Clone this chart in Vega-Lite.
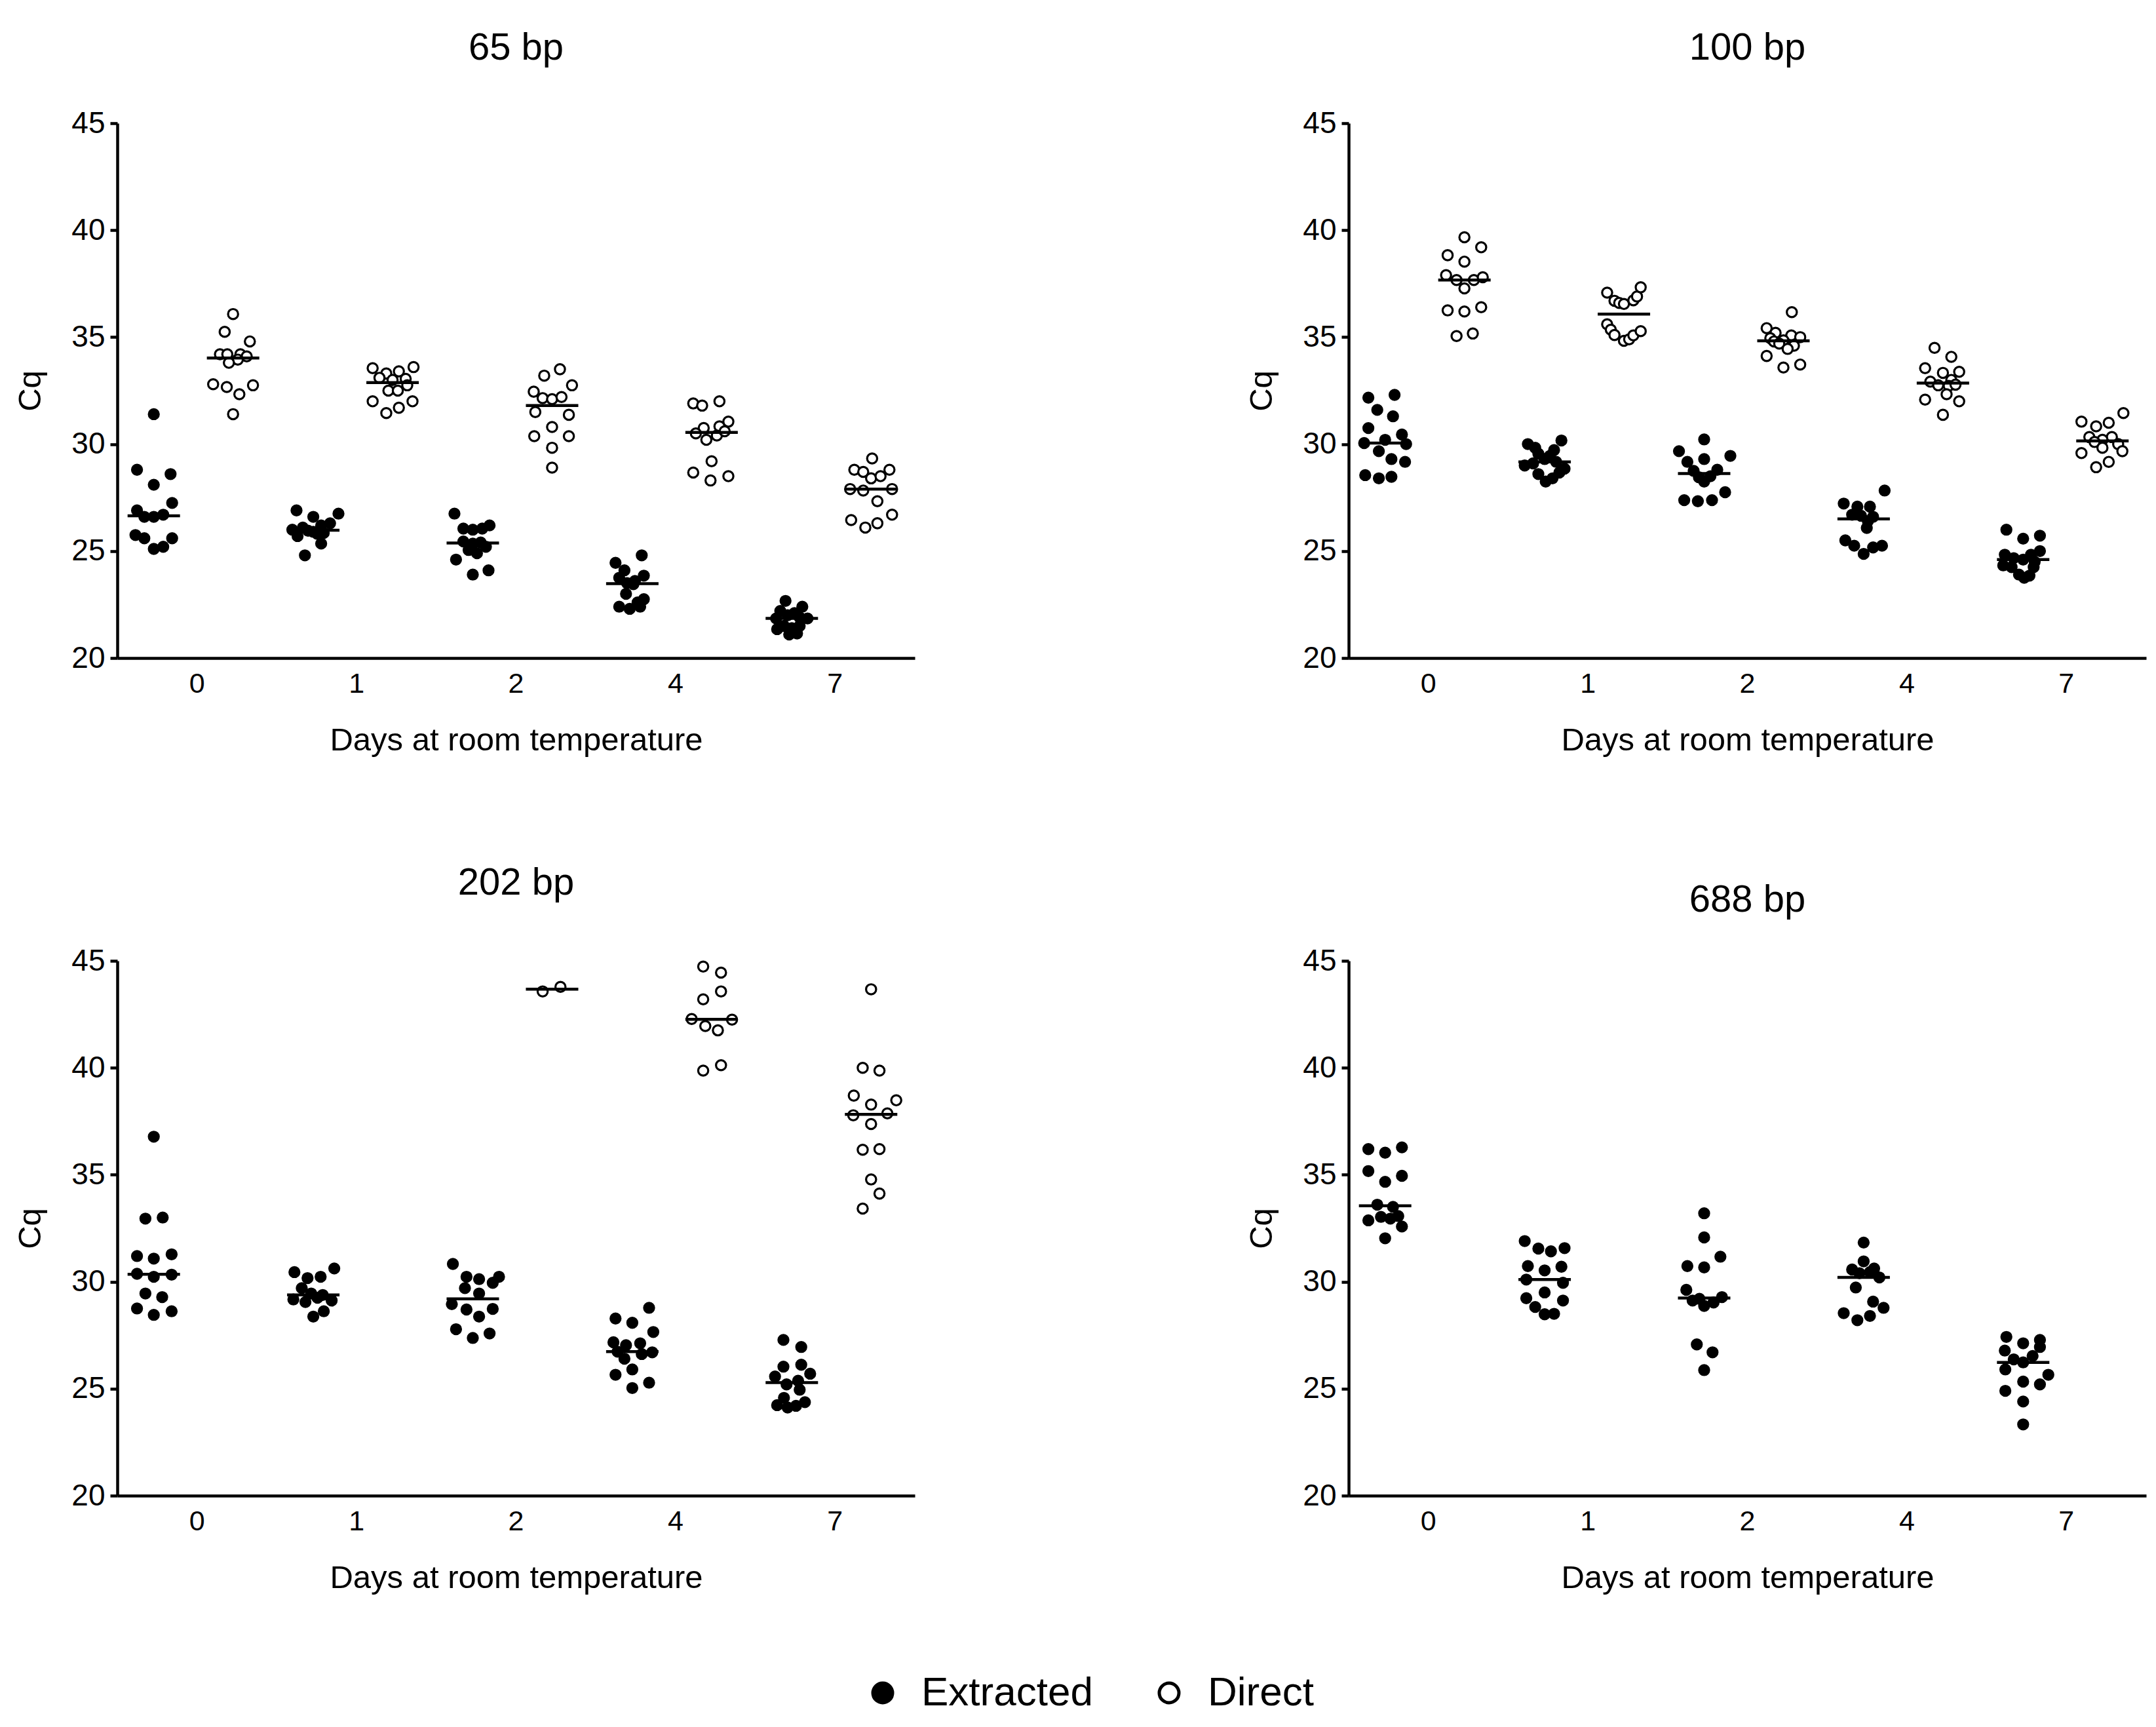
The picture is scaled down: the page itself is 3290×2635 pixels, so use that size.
{
  "$schema": "https://vega.github.io/schema/vega-lite/v6.json",
  "background": "white",
  "padding": {"left": 22, "top": 45, "right": 10, "bottom": 10},
  "data": {
    "values": [
      {"bp":"65 bp","day":"0","method":"Extracted","cq":31.4,"slot":0},
      {"bp":"65 bp","day":"0","method":"Extracted","cq":28.8,"slot":-1.6},
      {"bp":"65 bp","day":"0","method":"Extracted","cq":28.6,"slot":1.6},
      {"bp":"65 bp","day":"0","method":"Extracted","cq":28.1,"slot":0},
      {"bp":"65 bp","day":"0","method":"Extracted","cq":27.25,"slot":1.75},
      {"bp":"65 bp","day":"0","method":"Extracted","cq":26.9,"slot":-1.6},
      {"bp":"65 bp","day":"0","method":"Extracted","cq":26.6,"slot":-0.9},
      {"bp":"65 bp","day":"0","method":"Extracted","cq":26.6,"slot":0},
      {"bp":"65 bp","day":"0","method":"Extracted","cq":26.7,"slot":0.9},
      {"bp":"65 bp","day":"0","method":"Extracted","cq":25.75,"slot":-1.75},
      {"bp":"65 bp","day":"0","method":"Extracted","cq":25.6,"slot":-0.9},
      {"bp":"65 bp","day":"0","method":"Extracted","cq":25.6,"slot":1.75},
      {"bp":"65 bp","day":"0","method":"Extracted","cq":25.1,"slot":0},
      {"bp":"65 bp","day":"0","method":"Extracted","cq":25.2,"slot":0.9},
      {"bp":"65 bp","day":"0","method":"Direct","cq":36.08,"slot":0},
      {"bp":"65 bp","day":"0","method":"Direct","cq":35.25,"slot":-0.8},
      {"bp":"65 bp","day":"0","method":"Direct","cq":34.8,"slot":1.6},
      {"bp":"65 bp","day":"0","method":"Direct","cq":34.2,"slot":-1.25},
      {"bp":"65 bp","day":"0","method":"Direct","cq":34.2,"slot":-0.55},
      {"bp":"65 bp","day":"0","method":"Direct","cq":34.2,"slot":0.7},
      {"bp":"65 bp","day":"0","method":"Direct","cq":34.1,"slot":1.3},
      {"bp":"65 bp","day":"0","method":"Direct","cq":33.95,"slot":0.45},
      {"bp":"65 bp","day":"0","method":"Direct","cq":33.8,"slot":-0.4},
      {"bp":"65 bp","day":"0","method":"Direct","cq":32.8,"slot":-1.9},
      {"bp":"65 bp","day":"0","method":"Direct","cq":32.67,"slot":-0.6},
      {"bp":"65 bp","day":"0","method":"Direct","cq":32.33,"slot":0.6},
      {"bp":"65 bp","day":"0","method":"Direct","cq":32.75,"slot":1.9},
      {"bp":"65 bp","day":"0","method":"Direct","cq":31.4,"slot":0},
      {"bp":"65 bp","day":"1","method":"Extracted","cq":26.9,"slot":-1.6},
      {"bp":"65 bp","day":"1","method":"Extracted","cq":26.6,"slot":0},
      {"bp":"65 bp","day":"1","method":"Extracted","cq":26.75,"slot":2.4},
      {"bp":"65 bp","day":"1","method":"Extracted","cq":26.3,"slot":1.6},
      {"bp":"65 bp","day":"1","method":"Extracted","cq":26.2,"slot":0.75},
      {"bp":"65 bp","day":"1","method":"Extracted","cq":26.1,"slot":-1.0},
      {"bp":"65 bp","day":"1","method":"Extracted","cq":26.0,"slot":-2.0},
      {"bp":"65 bp","day":"1","method":"Extracted","cq":25.9,"slot":0},
      {"bp":"65 bp","day":"1","method":"Extracted","cq":25.95,"slot":-0.5},
      {"bp":"65 bp","day":"1","method":"Extracted","cq":25.85,"slot":1.0},
      {"bp":"65 bp","day":"1","method":"Extracted","cq":25.8,"slot":0.4},
      {"bp":"65 bp","day":"1","method":"Extracted","cq":25.7,"slot":-1.5},
      {"bp":"65 bp","day":"1","method":"Extracted","cq":25.35,"slot":0.75},
      {"bp":"65 bp","day":"1","method":"Extracted","cq":24.8,"slot":-0.8},
      {"bp":"65 bp","day":"1","method":"Direct","cq":33.55,"slot":-1.9},
      {"bp":"65 bp","day":"1","method":"Direct","cq":33.6,"slot":2.0},
      {"bp":"65 bp","day":"1","method":"Direct","cq":33.3,"slot":-0.6},
      {"bp":"65 bp","day":"1","method":"Direct","cq":33.4,"slot":0.6},
      {"bp":"65 bp","day":"1","method":"Direct","cq":33.1,"slot":-1.25},
      {"bp":"65 bp","day":"1","method":"Direct","cq":33.0,"slot":0},
      {"bp":"65 bp","day":"1","method":"Direct","cq":33.05,"slot":1.25},
      {"bp":"65 bp","day":"1","method":"Direct","cq":32.5,"slot":-0.4},
      {"bp":"65 bp","day":"1","method":"Direct","cq":32.5,"slot":0.5},
      {"bp":"65 bp","day":"1","method":"Direct","cq":32.75,"slot":1.4},
      {"bp":"65 bp","day":"1","method":"Direct","cq":32.0,"slot":-1.9},
      {"bp":"65 bp","day":"1","method":"Direct","cq":31.45,"slot":-0.6},
      {"bp":"65 bp","day":"1","method":"Direct","cq":31.7,"slot":0.6},
      {"bp":"65 bp","day":"1","method":"Direct","cq":32.0,"slot":1.9},
      {"bp":"65 bp","day":"2","method":"Extracted","cq":26.75,"slot":-1.75},
      {"bp":"65 bp","day":"2","method":"Extracted","cq":26.2,"slot":1.6},
      {"bp":"65 bp","day":"2","method":"Extracted","cq":26.05,"slot":-0.9},
      {"bp":"65 bp","day":"2","method":"Extracted","cq":26.0,"slot":0},
      {"bp":"65 bp","day":"2","method":"Extracted","cq":26.05,"slot":0.9},
      {"bp":"65 bp","day":"2","method":"Extracted","cq":25.45,"slot":-0.9},
      {"bp":"65 bp","day":"2","method":"Extracted","cq":25.4,"slot":0.75},
      {"bp":"65 bp","day":"2","method":"Extracted","cq":25.35,"slot":0},
      {"bp":"65 bp","day":"2","method":"Extracted","cq":25.05,"slot":-0.4},
      {"bp":"65 bp","day":"2","method":"Extracted","cq":24.9,"slot":0.4},
      {"bp":"65 bp","day":"2","method":"Extracted","cq":25.2,"slot":1.25},
      {"bp":"65 bp","day":"2","method":"Extracted","cq":24.6,"slot":-1.6},
      {"bp":"65 bp","day":"2","method":"Extracted","cq":24.1,"slot":1.5},
      {"bp":"65 bp","day":"2","method":"Extracted","cq":23.9,"slot":0},
      {"bp":"65 bp","day":"2","method":"Direct","cq":33.5,"slot":0.75},
      {"bp":"65 bp","day":"2","method":"Direct","cq":33.2,"slot":-0.75},
      {"bp":"65 bp","day":"2","method":"Direct","cq":32.75,"slot":1.9},
      {"bp":"65 bp","day":"2","method":"Direct","cq":32.45,"slot":-1.75},
      {"bp":"65 bp","day":"2","method":"Direct","cq":32.15,"slot":-0.9},
      {"bp":"65 bp","day":"2","method":"Direct","cq":32.1,"slot":0},
      {"bp":"65 bp","day":"2","method":"Direct","cq":32.2,"slot":0.9},
      {"bp":"65 bp","day":"2","method":"Direct","cq":31.5,"slot":-1.6},
      {"bp":"65 bp","day":"2","method":"Direct","cq":31.37,"slot":1.6},
      {"bp":"65 bp","day":"2","method":"Direct","cq":30.8,"slot":0},
      {"bp":"65 bp","day":"2","method":"Direct","cq":30.37,"slot":-1.7},
      {"bp":"65 bp","day":"2","method":"Direct","cq":30.37,"slot":1.6},
      {"bp":"65 bp","day":"2","method":"Direct","cq":29.83,"slot":0},
      {"bp":"65 bp","day":"2","method":"Direct","cq":28.9,"slot":0},
      {"bp":"65 bp","day":"4","method":"Extracted","cq":24.8,"slot":0.9},
      {"bp":"65 bp","day":"4","method":"Extracted","cq":24.45,"slot":-1.6},
      {"bp":"65 bp","day":"4","method":"Extracted","cq":24.1,"slot":-0.75},
      {"bp":"65 bp","day":"4","method":"Extracted","cq":23.85,"slot":1.1},
      {"bp":"65 bp","day":"4","method":"Extracted","cq":23.75,"slot":-1.25},
      {"bp":"65 bp","day":"4","method":"Extracted","cq":23.6,"slot":0.25},
      {"bp":"65 bp","day":"4","method":"Extracted","cq":23.5,"slot":-0.5},
      {"bp":"65 bp","day":"4","method":"Extracted","cq":23.45,"slot":0.1},
      {"bp":"65 bp","day":"4","method":"Extracted","cq":23.0,"slot":-0.6},
      {"bp":"65 bp","day":"4","method":"Extracted","cq":22.75,"slot":1.1},
      {"bp":"65 bp","day":"4","method":"Extracted","cq":22.6,"slot":0.5},
      {"bp":"65 bp","day":"4","method":"Extracted","cq":22.4,"slot":-1.25},
      {"bp":"65 bp","day":"4","method":"Extracted","cq":22.3,"slot":-0.25},
      {"bp":"65 bp","day":"4","method":"Extracted","cq":22.4,"slot":0.75},
      {"bp":"65 bp","day":"4","method":"Direct","cq":32.0,"slot":0.75},
      {"bp":"65 bp","day":"4","method":"Direct","cq":31.9,"slot":-1.75},
      {"bp":"65 bp","day":"4","method":"Direct","cq":31.8,"slot":-0.9},
      {"bp":"65 bp","day":"4","method":"Direct","cq":31.05,"slot":1.6},
      {"bp":"65 bp","day":"4","method":"Direct","cq":30.75,"slot":-0.75},
      {"bp":"65 bp","day":"4","method":"Direct","cq":30.83,"slot":0.75},
      {"bp":"65 bp","day":"4","method":"Direct","cq":30.5,"slot":-1.5},
      {"bp":"65 bp","day":"4","method":"Direct","cq":30.2,"slot":-0.5},
      {"bp":"65 bp","day":"4","method":"Direct","cq":30.4,"slot":0.5},
      {"bp":"65 bp","day":"4","method":"Direct","cq":30.6,"slot":1.25},
      {"bp":"65 bp","day":"4","method":"Direct","cq":29.2,"slot":0},
      {"bp":"65 bp","day":"4","method":"Direct","cq":28.67,"slot":-1.75},
      {"bp":"65 bp","day":"4","method":"Direct","cq":28.3,"slot":-0.1},
      {"bp":"65 bp","day":"4","method":"Direct","cq":28.5,"slot":1.6},
      {"bp":"65 bp","day":"7","method":"Extracted","cq":22.67,"slot":-0.6},
      {"bp":"65 bp","day":"7","method":"Extracted","cq":22.4,"slot":1.0},
      {"bp":"65 bp","day":"7","method":"Extracted","cq":22.2,"slot":-1.1},
      {"bp":"65 bp","day":"7","method":"Extracted","cq":22.1,"slot":0.25},
      {"bp":"65 bp","day":"7","method":"Extracted","cq":22.0,"slot":-0.4},
      {"bp":"65 bp","day":"7","method":"Extracted","cq":21.9,"slot":0.75},
      {"bp":"65 bp","day":"7","method":"Extracted","cq":21.85,"slot":1.5},
      {"bp":"65 bp","day":"7","method":"Extracted","cq":21.85,"slot":-1.5},
      {"bp":"65 bp","day":"7","method":"Extracted","cq":21.5,"slot":-0.75},
      {"bp":"65 bp","day":"7","method":"Extracted","cq":21.4,"slot":0},
      {"bp":"65 bp","day":"7","method":"Extracted","cq":21.5,"slot":0.75},
      {"bp":"65 bp","day":"7","method":"Extracted","cq":21.35,"slot":-1.4},
      {"bp":"65 bp","day":"7","method":"Extracted","cq":21.1,"slot":-0.25},
      {"bp":"65 bp","day":"7","method":"Extracted","cq":21.15,"slot":0.5},
      {"bp":"65 bp","day":"7","method":"Direct","cq":29.33,"slot":0.1},
      {"bp":"65 bp","day":"7","method":"Direct","cq":28.8,"slot":-1.6},
      {"bp":"65 bp","day":"7","method":"Direct","cq":28.7,"slot":-0.75},
      {"bp":"65 bp","day":"7","method":"Direct","cq":28.8,"slot":1.75},
      {"bp":"65 bp","day":"7","method":"Direct","cq":28.4,"slot":0},
      {"bp":"65 bp","day":"7","method":"Direct","cq":28.5,"slot":0.9},
      {"bp":"65 bp","day":"7","method":"Direct","cq":27.9,"slot":-2.0},
      {"bp":"65 bp","day":"7","method":"Direct","cq":27.83,"slot":-0.75},
      {"bp":"65 bp","day":"7","method":"Direct","cq":27.9,"slot":2.0},
      {"bp":"65 bp","day":"7","method":"Direct","cq":27.33,"slot":0.6},
      {"bp":"65 bp","day":"7","method":"Direct","cq":26.45,"slot":-1.9},
      {"bp":"65 bp","day":"7","method":"Direct","cq":26.1,"slot":-0.55},
      {"bp":"65 bp","day":"7","method":"Direct","cq":26.3,"slot":0.6},
      {"bp":"65 bp","day":"7","method":"Direct","cq":26.7,"slot":2.0},

      {"bp":"100 bp","day":"0","method":"Extracted","cq":32.17,"slot":-1.6},
      {"bp":"100 bp","day":"0","method":"Extracted","cq":32.3,"slot":0.9},
      {"bp":"100 bp","day":"0","method":"Extracted","cq":31.6,"slot":-0.75},
      {"bp":"100 bp","day":"0","method":"Extracted","cq":31.3,"slot":0.75},
      {"bp":"100 bp","day":"0","method":"Extracted","cq":30.75,"slot":-1.6},
      {"bp":"100 bp","day":"0","method":"Extracted","cq":30.45,"slot":1.6},
      {"bp":"100 bp","day":"0","method":"Extracted","cq":30.05,"slot":-2.0},
      {"bp":"100 bp","day":"0","method":"Extracted","cq":30.2,"slot":0},
      {"bp":"100 bp","day":"0","method":"Extracted","cq":30.0,"slot":2.0},
      {"bp":"100 bp","day":"0","method":"Extracted","cq":29.67,"slot":-0.6},
      {"bp":"100 bp","day":"0","method":"Extracted","cq":29.3,"slot":0.6},
      {"bp":"100 bp","day":"0","method":"Extracted","cq":29.17,"slot":1.9},
      {"bp":"100 bp","day":"0","method":"Extracted","cq":28.55,"slot":-1.9},
      {"bp":"100 bp","day":"0","method":"Extracted","cq":28.4,"slot":-0.6},
      {"bp":"100 bp","day":"0","method":"Extracted","cq":28.47,"slot":0.6},
      {"bp":"100 bp","day":"0","method":"Direct","cq":39.67,"slot":0},
      {"bp":"100 bp","day":"0","method":"Direct","cq":39.2,"slot":1.6},
      {"bp":"100 bp","day":"0","method":"Direct","cq":38.83,"slot":-1.6},
      {"bp":"100 bp","day":"0","method":"Direct","cq":38.53,"slot":0},
      {"bp":"100 bp","day":"0","method":"Direct","cq":37.9,"slot":-1.75},
      {"bp":"100 bp","day":"0","method":"Direct","cq":37.67,"slot":-0.75},
      {"bp":"100 bp","day":"0","method":"Direct","cq":37.67,"slot":0.9},
      {"bp":"100 bp","day":"0","method":"Direct","cq":37.8,"slot":1.75},
      {"bp":"100 bp","day":"0","method":"Direct","cq":37.28,"slot":0},
      {"bp":"100 bp","day":"0","method":"Direct","cq":36.25,"slot":-1.6},
      {"bp":"100 bp","day":"0","method":"Direct","cq":36.2,"slot":0},
      {"bp":"100 bp","day":"0","method":"Direct","cq":36.4,"slot":1.6},
      {"bp":"100 bp","day":"0","method":"Direct","cq":35.05,"slot":-0.75},
      {"bp":"100 bp","day":"0","method":"Direct","cq":35.17,"slot":0.8},
      {"bp":"100 bp","day":"1","method":"Extracted","cq":30.17,"slot":1.6},
      {"bp":"100 bp","day":"1","method":"Extracted","cq":30.0,"slot":-1.6},
      {"bp":"100 bp","day":"1","method":"Extracted","cq":29.83,"slot":-0.9},
      {"bp":"100 bp","day":"1","method":"Extracted","cq":29.72,"slot":0.9},
      {"bp":"100 bp","day":"1","method":"Extracted","cq":29.55,"slot":-0.6},
      {"bp":"100 bp","day":"1","method":"Extracted","cq":29.45,"slot":0.5},
      {"bp":"100 bp","day":"1","method":"Extracted","cq":29.3,"slot":0},
      {"bp":"100 bp","day":"1","method":"Extracted","cq":29.17,"slot":1.1},
      {"bp":"100 bp","day":"1","method":"Extracted","cq":29.1,"slot":-1.1},
      {"bp":"100 bp","day":"1","method":"Extracted","cq":29.0,"slot":-1.9},
      {"bp":"100 bp","day":"1","method":"Extracted","cq":28.85,"slot":1.9},
      {"bp":"100 bp","day":"1","method":"Extracted","cq":28.67,"slot":1.4},
      {"bp":"100 bp","day":"1","method":"Extracted","cq":28.6,"slot":-0.6},
      {"bp":"100 bp","day":"1","method":"Extracted","cq":28.4,"slot":0.75},
      {"bp":"100 bp","day":"1","method":"Extracted","cq":28.25,"slot":0.1},
      {"bp":"100 bp","day":"1","method":"Direct","cq":37.08,"slot":-1.6},
      {"bp":"100 bp","day":"1","method":"Direct","cq":36.7,"slot":-0.9},
      {"bp":"100 bp","day":"1","method":"Direct","cq":36.6,"slot":-0.45},
      {"bp":"100 bp","day":"1","method":"Direct","cq":36.55,"slot":0},
      {"bp":"100 bp","day":"1","method":"Direct","cq":36.72,"slot":0.9},
      {"bp":"100 bp","day":"1","method":"Direct","cq":36.9,"slot":1.25},
      {"bp":"100 bp","day":"1","method":"Direct","cq":37.33,"slot":1.6},
      {"bp":"100 bp","day":"1","method":"Direct","cq":35.6,"slot":-1.6},
      {"bp":"100 bp","day":"1","method":"Direct","cq":35.35,"slot":-1.25},
      {"bp":"100 bp","day":"1","method":"Direct","cq":35.1,"slot":-0.9},
      {"bp":"100 bp","day":"1","method":"Direct","cq":34.83,"slot":0},
      {"bp":"100 bp","day":"1","method":"Direct","cq":34.9,"slot":0.5},
      {"bp":"100 bp","day":"1","method":"Direct","cq":35.08,"slot":0.9},
      {"bp":"100 bp","day":"1","method":"Direct","cq":35.28,"slot":1.6},
      {"bp":"100 bp","day":"2","method":"Extracted","cq":30.22,"slot":0},
      {"bp":"100 bp","day":"2","method":"Extracted","cq":29.67,"slot":-2.4},
      {"bp":"100 bp","day":"2","method":"Extracted","cq":29.45,"slot":2.5},
      {"bp":"100 bp","day":"2","method":"Extracted","cq":29.3,"slot":0},
      {"bp":"100 bp","day":"2","method":"Extracted","cq":29.17,"slot":-1.6},
      {"bp":"100 bp","day":"2","method":"Extracted","cq":28.75,"slot":-1.0},
      {"bp":"100 bp","day":"2","method":"Extracted","cq":28.45,"slot":-0.5},
      {"bp":"100 bp","day":"2","method":"Extracted","cq":28.25,"slot":0},
      {"bp":"100 bp","day":"2","method":"Extracted","cq":28.5,"slot":0.6},
      {"bp":"100 bp","day":"2","method":"Extracted","cq":28.8,"slot":1.25},
      {"bp":"100 bp","day":"2","method":"Extracted","cq":27.38,"slot":-1.9},
      {"bp":"100 bp","day":"2","method":"Extracted","cq":27.33,"slot":-0.6},
      {"bp":"100 bp","day":"2","method":"Extracted","cq":27.38,"slot":0.75},
      {"bp":"100 bp","day":"2","method":"Extracted","cq":27.75,"slot":2.0},
      {"bp":"100 bp","day":"2","method":"Direct","cq":36.17,"slot":0.8},
      {"bp":"100 bp","day":"2","method":"Direct","cq":35.42,"slot":-1.6},
      {"bp":"100 bp","day":"2","method":"Direct","cq":35.2,"slot":-0.75},
      {"bp":"100 bp","day":"2","method":"Direct","cq":35.08,"slot":0.75},
      {"bp":"100 bp","day":"2","method":"Direct","cq":35.0,"slot":1.6},
      {"bp":"100 bp","day":"2","method":"Direct","cq":34.95,"slot":-1.25},
      {"bp":"100 bp","day":"2","method":"Direct","cq":34.85,"slot":0},
      {"bp":"100 bp","day":"2","method":"Direct","cq":34.8,"slot":-0.9},
      {"bp":"100 bp","day":"2","method":"Direct","cq":34.7,"slot":-0.4},
      {"bp":"100 bp","day":"2","method":"Direct","cq":34.6,"slot":1.0},
      {"bp":"100 bp","day":"2","method":"Direct","cq":34.45,"slot":0.4},
      {"bp":"100 bp","day":"2","method":"Direct","cq":34.12,"slot":-1.6},
      {"bp":"100 bp","day":"2","method":"Direct","cq":33.72,"slot":1.6},
      {"bp":"100 bp","day":"2","method":"Direct","cq":33.58,"slot":0},
      {"bp":"100 bp","day":"4","method":"Extracted","cq":27.83,"slot":2.0},
      {"bp":"100 bp","day":"4","method":"Extracted","cq":27.22,"slot":-1.9},
      {"bp":"100 bp","day":"4","method":"Extracted","cq":27.08,"slot":-0.6},
      {"bp":"100 bp","day":"4","method":"Extracted","cq":27.08,"slot":0.6},
      {"bp":"100 bp","day":"4","method":"Extracted","cq":26.7,"slot":-1.1},
      {"bp":"100 bp","day":"4","method":"Extracted","cq":26.65,"slot":-0.25},
      {"bp":"100 bp","day":"4","method":"Extracted","cq":26.6,"slot":0.9},
      {"bp":"100 bp","day":"4","method":"Extracted","cq":26.4,"slot":0.4},
      {"bp":"100 bp","day":"4","method":"Extracted","cq":26.08,"slot":0.3},
      {"bp":"100 bp","day":"4","method":"Extracted","cq":25.5,"slot":-1.75},
      {"bp":"100 bp","day":"4","method":"Extracted","cq":25.25,"slot":-0.9},
      {"bp":"100 bp","day":"4","method":"Extracted","cq":24.87,"slot":0},
      {"bp":"100 bp","day":"4","method":"Extracted","cq":25.17,"slot":0.9},
      {"bp":"100 bp","day":"4","method":"Extracted","cq":25.25,"slot":1.75},
      {"bp":"100 bp","day":"4","method":"Direct","cq":34.5,"slot":-0.8},
      {"bp":"100 bp","day":"4","method":"Direct","cq":34.08,"slot":0.8},
      {"bp":"100 bp","day":"4","method":"Direct","cq":33.55,"slot":-1.7},
      {"bp":"100 bp","day":"4","method":"Direct","cq":33.33,"slot":0},
      {"bp":"100 bp","day":"4","method":"Direct","cq":33.38,"slot":1.55},
      {"bp":"100 bp","day":"4","method":"Direct","cq":33.0,"slot":0.8},
      {"bp":"100 bp","day":"4","method":"Direct","cq":32.92,"slot":-1.2},
      {"bp":"100 bp","day":"4","method":"Direct","cq":32.75,"slot":-0.45},
      {"bp":"100 bp","day":"4","method":"Direct","cq":32.72,"slot":0.55},
      {"bp":"100 bp","day":"4","method":"Direct","cq":32.78,"slot":1.2},
      {"bp":"100 bp","day":"4","method":"Direct","cq":32.33,"slot":0.35},
      {"bp":"100 bp","day":"4","method":"Direct","cq":32.08,"slot":-1.7},
      {"bp":"100 bp","day":"4","method":"Direct","cq":32.0,"slot":1.55},
      {"bp":"100 bp","day":"4","method":"Direct","cq":31.37,"slot":0},
      {"bp":"100 bp","day":"7","method":"Extracted","cq":26.0,"slot":-1.6},
      {"bp":"100 bp","day":"7","method":"Extracted","cq":25.72,"slot":1.6},
      {"bp":"100 bp","day":"7","method":"Extracted","cq":25.58,"slot":0},
      {"bp":"100 bp","day":"7","method":"Extracted","cq":25.0,"slot":1.6},
      {"bp":"100 bp","day":"7","method":"Extracted","cq":24.83,"slot":-1.75},
      {"bp":"100 bp","day":"7","method":"Extracted","cq":24.83,"slot":0.75},
      {"bp":"100 bp","day":"7","method":"Extracted","cq":24.67,"slot":-0.9},
      {"bp":"100 bp","day":"7","method":"Extracted","cq":24.6,"slot":0},
      {"bp":"100 bp","day":"7","method":"Extracted","cq":24.5,"slot":1.1},
      {"bp":"100 bp","day":"7","method":"Extracted","cq":24.33,"slot":-1.9},
      {"bp":"100 bp","day":"7","method":"Extracted","cq":24.25,"slot":-1.1},
      {"bp":"100 bp","day":"7","method":"Extracted","cq":24.25,"slot":1.0},
      {"bp":"100 bp","day":"7","method":"Extracted","cq":23.9,"slot":-0.4},
      {"bp":"100 bp","day":"7","method":"Extracted","cq":23.75,"slot":0.1},
      {"bp":"100 bp","day":"7","method":"Extracted","cq":23.85,"slot":0.6},
      {"bp":"100 bp","day":"7","method":"Direct","cq":31.45,"slot":2.0},
      {"bp":"100 bp","day":"7","method":"Direct","cq":31.05,"slot":-2.0},
      {"bp":"100 bp","day":"7","method":"Direct","cq":30.83,"slot":-0.6},
      {"bp":"100 bp","day":"7","method":"Direct","cq":31.0,"slot":0.6},
      {"bp":"100 bp","day":"7","method":"Direct","cq":30.33,"slot":-1.25},
      {"bp":"100 bp","day":"7","method":"Direct","cq":30.33,"slot":0.9},
      {"bp":"100 bp","day":"7","method":"Direct","cq":30.2,"slot":0},
      {"bp":"100 bp","day":"7","method":"Direct","cq":30.1,"slot":-0.75},
      {"bp":"100 bp","day":"7","method":"Direct","cq":29.83,"slot":0},
      {"bp":"100 bp","day":"7","method":"Direct","cq":30.0,"slot":1.5},
      {"bp":"100 bp","day":"7","method":"Direct","cq":29.58,"slot":-2.0},
      {"bp":"100 bp","day":"7","method":"Direct","cq":29.67,"slot":1.9},
      {"bp":"100 bp","day":"7","method":"Direct","cq":29.17,"slot":0.6},
      {"bp":"100 bp","day":"7","method":"Direct","cq":28.92,"slot":-0.6},

      {"bp":"202 bp","day":"0","method":"Extracted","cq":36.78,"slot":0},
      {"bp":"202 bp","day":"0","method":"Extracted","cq":32.95,"slot":-0.8},
      {"bp":"202 bp","day":"0","method":"Extracted","cq":33.0,"slot":0.85},
      {"bp":"202 bp","day":"0","method":"Extracted","cq":31.2,"slot":-1.6},
      {"bp":"202 bp","day":"0","method":"Extracted","cq":31.08,"slot":0},
      {"bp":"202 bp","day":"0","method":"Extracted","cq":31.28,"slot":1.7},
      {"bp":"202 bp","day":"0","method":"Extracted","cq":30.37,"slot":-1.6},
      {"bp":"202 bp","day":"0","method":"Extracted","cq":30.23,"slot":0},
      {"bp":"202 bp","day":"0","method":"Extracted","cq":30.33,"slot":1.7},
      {"bp":"202 bp","day":"0","method":"Extracted","cq":29.45,"slot":-0.8},
      {"bp":"202 bp","day":"0","method":"Extracted","cq":29.28,"slot":0.8},
      {"bp":"202 bp","day":"0","method":"Extracted","cq":28.75,"slot":-1.6},
      {"bp":"202 bp","day":"0","method":"Extracted","cq":28.45,"slot":0},
      {"bp":"202 bp","day":"0","method":"Extracted","cq":28.62,"slot":1.7},
      {"bp":"202 bp","day":"1","method":"Extracted","cq":30.62,"slot":2.0},
      {"bp":"202 bp","day":"1","method":"Extracted","cq":30.45,"slot":-1.8},
      {"bp":"202 bp","day":"1","method":"Extracted","cq":30.17,"slot":-0.55},
      {"bp":"202 bp","day":"1","method":"Extracted","cq":30.23,"slot":0.7},
      {"bp":"202 bp","day":"1","method":"Extracted","cq":29.7,"slot":-1.1},
      {"bp":"202 bp","day":"1","method":"Extracted","cq":29.45,"slot":-0.2},
      {"bp":"202 bp","day":"1","method":"Extracted","cq":29.38,"slot":0.9},
      {"bp":"202 bp","day":"1","method":"Extracted","cq":29.17,"slot":-1.9},
      {"bp":"202 bp","day":"1","method":"Extracted","cq":29.05,"slot":-0.75},
      {"bp":"202 bp","day":"1","method":"Extracted","cq":29.25,"slot":0.4},
      {"bp":"202 bp","day":"1","method":"Extracted","cq":29.12,"slot":1.75},
      {"bp":"202 bp","day":"1","method":"Extracted","cq":28.62,"slot":1.0},
      {"bp":"202 bp","day":"1","method":"Extracted","cq":28.37,"slot":0},
      {"bp":"202 bp","day":"2","method":"Extracted","cq":30.83,"slot":-1.9},
      {"bp":"202 bp","day":"2","method":"Extracted","cq":30.23,"slot":2.5},
      {"bp":"202 bp","day":"2","method":"Extracted","cq":30.23,"slot":-0.6},
      {"bp":"202 bp","day":"2","method":"Extracted","cq":30.12,"slot":0.6},
      {"bp":"202 bp","day":"2","method":"Extracted","cq":29.95,"slot":1.9},
      {"bp":"202 bp","day":"2","method":"Extracted","cq":29.7,"slot":-0.75},
      {"bp":"202 bp","day":"2","method":"Extracted","cq":29.45,"slot":0.6},
      {"bp":"202 bp","day":"2","method":"Extracted","cq":28.95,"slot":-2.0},
      {"bp":"202 bp","day":"2","method":"Extracted","cq":28.7,"slot":-0.6},
      {"bp":"202 bp","day":"2","method":"Extracted","cq":28.73,"slot":1.9},
      {"bp":"202 bp","day":"2","method":"Extracted","cq":28.37,"slot":0.6},
      {"bp":"202 bp","day":"2","method":"Extracted","cq":27.78,"slot":-1.6},
      {"bp":"202 bp","day":"2","method":"Extracted","cq":27.37,"slot":0},
      {"bp":"202 bp","day":"2","method":"Extracted","cq":27.58,"slot":1.6},
      {"bp":"202 bp","day":"2","method":"Direct","cq":43.57,"slot":-0.9},
      {"bp":"202 bp","day":"2","method":"Direct","cq":43.78,"slot":0.8},
      {"bp":"202 bp","day":"4","method":"Extracted","cq":28.78,"slot":1.6},
      {"bp":"202 bp","day":"4","method":"Extracted","cq":28.28,"slot":-1.6},
      {"bp":"202 bp","day":"4","method":"Extracted","cq":28.08,"slot":0},
      {"bp":"202 bp","day":"4","method":"Extracted","cq":27.65,"slot":2.0},
      {"bp":"202 bp","day":"4","method":"Extracted","cq":27.17,"slot":-1.8},
      {"bp":"202 bp","day":"4","method":"Extracted","cq":27.03,"slot":-0.6},
      {"bp":"202 bp","day":"4","method":"Extracted","cq":27.12,"slot":0.75},
      {"bp":"202 bp","day":"4","method":"Extracted","cq":26.73,"slot":-1.4},
      {"bp":"202 bp","day":"4","method":"Extracted","cq":26.4,"slot":-0.75},
      {"bp":"202 bp","day":"4","method":"Extracted","cq":26.62,"slot":0.9},
      {"bp":"202 bp","day":"4","method":"Extracted","cq":26.7,"slot":1.9},
      {"bp":"202 bp","day":"4","method":"Extracted","cq":25.9,"slot":0},
      {"bp":"202 bp","day":"4","method":"Extracted","cq":25.65,"slot":-1.6},
      {"bp":"202 bp","day":"4","method":"Extracted","cq":25.28,"slot":1.6},
      {"bp":"202 bp","day":"4","method":"Extracted","cq":25.03,"slot":0},
      {"bp":"202 bp","day":"4","method":"Direct","cq":44.73,"slot":-0.8},
      {"bp":"202 bp","day":"4","method":"Direct","cq":44.45,"slot":0.9},
      {"bp":"202 bp","day":"4","method":"Direct","cq":43.57,"slot":0.9},
      {"bp":"202 bp","day":"4","method":"Direct","cq":43.2,"slot":-0.8},
      {"bp":"202 bp","day":"4","method":"Direct","cq":42.28,"slot":-1.9},
      {"bp":"202 bp","day":"4","method":"Direct","cq":42.25,"slot":1.95},
      {"bp":"202 bp","day":"4","method":"Direct","cq":41.95,"slot":-0.6},
      {"bp":"202 bp","day":"4","method":"Direct","cq":41.75,"slot":0.6},
      {"bp":"202 bp","day":"4","method":"Direct","cq":39.87,"slot":-0.8},
      {"bp":"202 bp","day":"4","method":"Direct","cq":40.12,"slot":0.9},
      {"bp":"202 bp","day":"7","method":"Extracted","cq":27.28,"slot":-0.8},
      {"bp":"202 bp","day":"7","method":"Extracted","cq":26.95,"slot":0.9},
      {"bp":"202 bp","day":"7","method":"Extracted","cq":26.03,"slot":-0.8},
      {"bp":"202 bp","day":"7","method":"Extracted","cq":26.12,"slot":0.9},
      {"bp":"202 bp","day":"7","method":"Extracted","cq":25.57,"slot":-1.6},
      {"bp":"202 bp","day":"7","method":"Extracted","cq":25.7,"slot":1.75},
      {"bp":"202 bp","day":"7","method":"Extracted","cq":25.2,"slot":-0.5},
      {"bp":"202 bp","day":"7","method":"Extracted","cq":25.37,"slot":0.6},
      {"bp":"202 bp","day":"7","method":"Extracted","cq":24.95,"slot":0.75},
      {"bp":"202 bp","day":"7","method":"Extracted","cq":24.57,"slot":-0.75},
      {"bp":"202 bp","day":"7","method":"Extracted","cq":24.23,"slot":-1.4},
      {"bp":"202 bp","day":"7","method":"Extracted","cq":24.12,"slot":-0.4},
      {"bp":"202 bp","day":"7","method":"Extracted","cq":24.2,"slot":0.4},
      {"bp":"202 bp","day":"7","method":"Extracted","cq":24.37,"slot":1.25},
      {"bp":"202 bp","day":"7","method":"Direct","cq":43.67,"slot":0},
      {"bp":"202 bp","day":"7","method":"Direct","cq":40.0,"slot":-0.8},
      {"bp":"202 bp","day":"7","method":"Direct","cq":39.87,"slot":0.8},
      {"bp":"202 bp","day":"7","method":"Direct","cq":38.7,"slot":-1.65},
      {"bp":"202 bp","day":"7","method":"Direct","cq":38.48,"slot":2.4},
      {"bp":"202 bp","day":"7","method":"Direct","cq":38.28,"slot":0},
      {"bp":"202 bp","day":"7","method":"Direct","cq":37.78,"slot":-1.7},
      {"bp":"202 bp","day":"7","method":"Direct","cq":37.87,"slot":1.55},
      {"bp":"202 bp","day":"7","method":"Direct","cq":37.37,"slot":0},
      {"bp":"202 bp","day":"7","method":"Direct","cq":36.17,"slot":-0.8},
      {"bp":"202 bp","day":"7","method":"Direct","cq":36.2,"slot":0.8},
      {"bp":"202 bp","day":"7","method":"Direct","cq":34.78,"slot":0},
      {"bp":"202 bp","day":"7","method":"Direct","cq":34.12,"slot":0.8},
      {"bp":"202 bp","day":"7","method":"Direct","cq":33.42,"slot":-0.8},

      {"bp":"688 bp","day":"0","method":"Extracted","cq":36.2,"slot":-1.6},
      {"bp":"688 bp","day":"0","method":"Extracted","cq":36.03,"slot":0},
      {"bp":"688 bp","day":"0","method":"Extracted","cq":36.28,"slot":1.6},
      {"bp":"688 bp","day":"0","method":"Extracted","cq":35.17,"slot":-1.6},
      {"bp":"688 bp","day":"0","method":"Extracted","cq":34.95,"slot":1.6},
      {"bp":"688 bp","day":"0","method":"Extracted","cq":34.67,"slot":0},
      {"bp":"688 bp","day":"0","method":"Extracted","cq":33.6,"slot":-0.75},
      {"bp":"688 bp","day":"0","method":"Extracted","cq":33.5,"slot":0.75},
      {"bp":"688 bp","day":"0","method":"Extracted","cq":32.87,"slot":-1.6},
      {"bp":"688 bp","day":"0","method":"Extracted","cq":33.03,"slot":-0.4},
      {"bp":"688 bp","day":"0","method":"Extracted","cq":32.95,"slot":0.5},
      {"bp":"688 bp","day":"0","method":"Extracted","cq":33.07,"slot":1.25},
      {"bp":"688 bp","day":"0","method":"Extracted","cq":32.58,"slot":1.6},
      {"bp":"688 bp","day":"0","method":"Extracted","cq":32.03,"slot":0},
      {"bp":"688 bp","day":"1","method":"Extracted","cq":31.9,"slot":-1.9},
      {"bp":"688 bp","day":"1","method":"Extracted","cq":31.55,"slot":-0.6},
      {"bp":"688 bp","day":"1","method":"Extracted","cq":31.42,"slot":0.6},
      {"bp":"688 bp","day":"1","method":"Extracted","cq":31.57,"slot":1.9},
      {"bp":"688 bp","day":"1","method":"Extracted","cq":30.73,"slot":-1.6},
      {"bp":"688 bp","day":"1","method":"Extracted","cq":30.53,"slot":0},
      {"bp":"688 bp","day":"1","method":"Extracted","cq":30.7,"slot":1.6},
      {"bp":"688 bp","day":"1","method":"Extracted","cq":30.1,"slot":-1.75},
      {"bp":"688 bp","day":"1","method":"Extracted","cq":29.95,"slot":1.75},
      {"bp":"688 bp","day":"1","method":"Extracted","cq":29.5,"slot":0},
      {"bp":"688 bp","day":"1","method":"Extracted","cq":29.23,"slot":-1.75},
      {"bp":"688 bp","day":"1","method":"Extracted","cq":29.12,"slot":1.75},
      {"bp":"688 bp","day":"1","method":"Extracted","cq":28.82,"slot":-0.9},
      {"bp":"688 bp","day":"1","method":"Extracted","cq":28.48,"slot":0},
      {"bp":"688 bp","day":"1","method":"Extracted","cq":28.5,"slot":0.9},
      {"bp":"688 bp","day":"2","method":"Extracted","cq":33.2,"slot":0},
      {"bp":"688 bp","day":"2","method":"Extracted","cq":32.07,"slot":0},
      {"bp":"688 bp","day":"2","method":"Extracted","cq":31.17,"slot":1.55},
      {"bp":"688 bp","day":"2","method":"Extracted","cq":30.73,"slot":-1.6},
      {"bp":"688 bp","day":"2","method":"Extracted","cq":30.67,"slot":0},
      {"bp":"688 bp","day":"2","method":"Extracted","cq":29.62,"slot":-1.7},
      {"bp":"688 bp","day":"2","method":"Extracted","cq":29.28,"slot":1.7},
      {"bp":"688 bp","day":"2","method":"Extracted","cq":29.2,"slot":-0.45},
      {"bp":"688 bp","day":"2","method":"Extracted","cq":29.12,"slot":-1.1},
      {"bp":"688 bp","day":"2","method":"Extracted","cq":28.87,"slot":0},
      {"bp":"688 bp","day":"2","method":"Extracted","cq":29.03,"slot":0.9},
      {"bp":"688 bp","day":"2","method":"Extracted","cq":27.07,"slot":-0.7},
      {"bp":"688 bp","day":"2","method":"Extracted","cq":26.7,"slot":0.8},
      {"bp":"688 bp","day":"2","method":"Extracted","cq":25.87,"slot":0},
      {"bp":"688 bp","day":"4","method":"Extracted","cq":31.83,"slot":0},
      {"bp":"688 bp","day":"4","method":"Extracted","cq":30.95,"slot":0},
      {"bp":"688 bp","day":"4","method":"Extracted","cq":30.57,"slot":-1.1},
      {"bp":"688 bp","day":"4","method":"Extracted","cq":30.62,"slot":1.0},
      {"bp":"688 bp","day":"4","method":"Extracted","cq":30.4,"slot":-0.4},
      {"bp":"688 bp","day":"4","method":"Extracted","cq":30.45,"slot":0.6},
      {"bp":"688 bp","day":"4","method":"Extracted","cq":30.2,"slot":1.5},
      {"bp":"688 bp","day":"4","method":"Extracted","cq":29.73,"slot":-0.75},
      {"bp":"688 bp","day":"4","method":"Extracted","cq":29.07,"slot":0.9},
      {"bp":"688 bp","day":"4","method":"Extracted","cq":28.78,"slot":1.9},
      {"bp":"688 bp","day":"4","method":"Extracted","cq":28.53,"slot":-1.9},
      {"bp":"688 bp","day":"4","method":"Extracted","cq":28.2,"slot":-0.6},
      {"bp":"688 bp","day":"4","method":"Extracted","cq":28.4,"slot":0.6},
      {"bp":"688 bp","day":"7","method":"Extracted","cq":27.42,"slot":-1.6},
      {"bp":"688 bp","day":"7","method":"Extracted","cq":27.12,"slot":0},
      {"bp":"688 bp","day":"7","method":"Extracted","cq":27.28,"slot":1.6},
      {"bp":"688 bp","day":"7","method":"Extracted","cq":26.95,"slot":1.6},
      {"bp":"688 bp","day":"7","method":"Extracted","cq":26.78,"slot":-1.75},
      {"bp":"688 bp","day":"7","method":"Extracted","cq":26.53,"slot":0.9},
      {"bp":"688 bp","day":"7","method":"Extracted","cq":26.37,"slot":-0.9},
      {"bp":"688 bp","day":"7","method":"Extracted","cq":26.23,"slot":0},
      {"bp":"688 bp","day":"7","method":"Extracted","cq":25.9,"slot":-1.7},
      {"bp":"688 bp","day":"7","method":"Extracted","cq":25.65,"slot":2.4},
      {"bp":"688 bp","day":"7","method":"Extracted","cq":25.33,"slot":0},
      {"bp":"688 bp","day":"7","method":"Extracted","cq":25.2,"slot":1.6},
      {"bp":"688 bp","day":"7","method":"Extracted","cq":24.9,"slot":-1.7},
      {"bp":"688 bp","day":"7","method":"Extracted","cq":24.4,"slot":0},
      {"bp":"688 bp","day":"7","method":"Extracted","cq":23.33,"slot":0}
    ]
  },
  "columns": 2,
  "spacing": {"row": 165, "column": 505},
  "resolve": {
    "scale": {"x": "independent", "y": "independent", "xOffset": "independent", "fill": "shared"},
    "axis": {"x": "independent", "y": "independent"},
    "legend": {"fill": "shared"}
  },
  "concat": [
    {
      "title": {"text": "65 bp", "offset": 62},
      "width": 1217,
      "height": 816,
      "transform": [{"filter": "datum.bp === '65 bp'"}],
      "encoding": {
        "x": {"field": "day", "type": "nominal", "scale": {"type": "band", "domain": ["0", "1", "2", "4", "7"], "paddingInner": 0, "paddingOuter": 0}, "axis": {"title": "Days at room temperature"}},
        "y": {"field": "cq", "type": "quantitative", "scale": {"domain": [20, 45], "nice": false, "zero": false}, "axis": {"title": "Cq", "values": [20, 25, 30, 35, 40, 45]}}
      },
      "layer": [
        {
          "transform": [{"filter": "datum.method === 'Extracted'"}],
          "mark": {"type": "circle", "size": 235, "stroke": "black", "strokeWidth": 3, "opacity": 1},
          "encoding": {
            "xOffset": {"field": "slot", "type": "quantitative", "scale": {"domain": [-3.48, 11.73]}},
            "fill": {"field": "method", "type": "nominal", "scale": {"domain": ["Extracted", "Direct"], "range": ["black", "white"]}, "legend": {"title": null, "orient": "none", "legendX": 1137, "legendY": 2364, "direction": "horizontal", "labelFontSize": 62, "labelLimit": 1000, "labelColor": "black", "symbolType": "circle", "symbolSize": 900, "symbolStrokeColor": "black", "symbolStrokeWidth": 5, "symbolOpacity": 1, "labelOffset": 28, "columnPadding": 85}}
          }
        },
        {
          "transform": [{"filter": "datum.method === 'Extracted'"}],
          "mark": {"type": "tick", "orient": "horizontal", "size": 80, "thickness": 4.5, "color": "black", "opacity": 1},
          "encoding": {
            "xOffset": {"datum": 0, "type": "quantitative", "scale": {"domain": [-3.48, 11.73]}},
            "y": {"field": "cq", "aggregate": "median", "type": "quantitative", "title": "Cq"}
          }
        },
        {
          "transform": [{"filter": "datum.method === 'Direct'"}],
          "mark": {"type": "circle", "size": 235, "stroke": "black", "strokeWidth": 3.2, "opacity": 1},
          "encoding": {
            "xOffset": {"field": "slot", "type": "quantitative", "scale": {"domain": [-11.04, 4.17]}},
            "fill": {"field": "method", "type": "nominal", "scale": {"domain": ["Extracted", "Direct"], "range": ["black", "white"]}, "legend": {"title": null, "orient": "none", "legendX": 1137, "legendY": 2364, "direction": "horizontal", "labelFontSize": 62, "labelLimit": 1000, "labelColor": "black", "symbolType": "circle", "symbolSize": 900, "symbolStrokeColor": "black", "symbolStrokeWidth": 5, "symbolOpacity": 1, "labelOffset": 28, "columnPadding": 85}}
          }
        },
        {
          "transform": [{"filter": "datum.method === 'Direct'"}],
          "mark": {"type": "tick", "orient": "horizontal", "size": 80, "thickness": 4.5, "color": "black", "opacity": 1},
          "encoding": {
            "xOffset": {"datum": 0, "type": "quantitative", "scale": {"domain": [-11.04, 4.17]}},
            "y": {"field": "cq", "aggregate": "median", "type": "quantitative", "title": "Cq"}
          }
        }
      ],
      "resolve": {"scale": {"xOffset": "independent"}}
    },
    {
      "title": {"text": "100 bp", "offset": 62},
      "width": 1217,
      "height": 816,
      "transform": [{"filter": "datum.bp === '100 bp'"}],
      "encoding": {
        "x": {"field": "day", "type": "nominal", "scale": {"type": "band", "domain": ["0", "1", "2", "4", "7"], "paddingInner": 0, "paddingOuter": 0}, "axis": {"title": "Days at room temperature"}},
        "y": {"field": "cq", "type": "quantitative", "scale": {"domain": [20, 45], "nice": false, "zero": false}, "axis": {"title": "Cq", "values": [20, 25, 30, 35, 40, 45]}}
      },
      "layer": [
        {
          "transform": [{"filter": "datum.method === 'Extracted'"}],
          "mark": {"type": "circle", "size": 235, "stroke": "black", "strokeWidth": 3, "opacity": 1},
          "encoding": {
            "xOffset": {"field": "slot", "type": "quantitative", "scale": {"domain": [-3.48, 11.73]}},
            "fill": {"field": "method", "type": "nominal", "scale": {"domain": ["Extracted", "Direct"], "range": ["black", "white"]}, "legend": {"title": null, "orient": "none", "legendX": 1137, "legendY": 2364, "direction": "horizontal", "labelFontSize": 62, "labelLimit": 1000, "labelColor": "black", "symbolType": "circle", "symbolSize": 900, "symbolStrokeColor": "black", "symbolStrokeWidth": 5, "symbolOpacity": 1, "labelOffset": 28, "columnPadding": 85}}
          }
        },
        {
          "transform": [{"filter": "datum.method === 'Extracted'"}],
          "mark": {"type": "tick", "orient": "horizontal", "size": 80, "thickness": 4.5, "color": "black", "opacity": 1},
          "encoding": {
            "xOffset": {"datum": 0, "type": "quantitative", "scale": {"domain": [-3.48, 11.73]}},
            "y": {"field": "cq", "aggregate": "median", "type": "quantitative", "title": "Cq"}
          }
        },
        {
          "transform": [{"filter": "datum.method === 'Direct'"}],
          "mark": {"type": "circle", "size": 235, "stroke": "black", "strokeWidth": 3.2, "opacity": 1},
          "encoding": {
            "xOffset": {"field": "slot", "type": "quantitative", "scale": {"domain": [-11.04, 4.17]}},
            "fill": {"field": "method", "type": "nominal", "scale": {"domain": ["Extracted", "Direct"], "range": ["black", "white"]}, "legend": {"title": null, "orient": "none", "legendX": 1137, "legendY": 2364, "direction": "horizontal", "labelFontSize": 62, "labelLimit": 1000, "labelColor": "black", "symbolType": "circle", "symbolSize": 900, "symbolStrokeColor": "black", "symbolStrokeWidth": 5, "symbolOpacity": 1, "labelOffset": 28, "columnPadding": 85}}
          }
        },
        {
          "transform": [{"filter": "datum.method === 'Direct'"}],
          "mark": {"type": "tick", "orient": "horizontal", "size": 80, "thickness": 4.5, "color": "black", "opacity": 1},
          "encoding": {
            "xOffset": {"datum": 0, "type": "quantitative", "scale": {"domain": [-11.04, 4.17]}},
            "y": {"field": "cq", "aggregate": "median", "type": "quantitative", "title": "Cq"}
          }
        }
      ],
      "resolve": {"scale": {"xOffset": "independent"}}
    },
    {
      "title": {"text": "202 bp", "offset": 66},
      "width": 1217,
      "height": 816,
      "transform": [{"filter": "datum.bp === '202 bp'"}],
      "encoding": {
        "x": {"field": "day", "type": "nominal", "scale": {"type": "band", "domain": ["0", "1", "2", "4", "7"], "paddingInner": 0, "paddingOuter": 0}, "axis": {"title": "Days at room temperature"}},
        "y": {"field": "cq", "type": "quantitative", "scale": {"domain": [20, 45], "nice": false, "zero": false}, "axis": {"title": "Cq", "values": [20, 25, 30, 35, 40, 45]}}
      },
      "layer": [
        {
          "transform": [{"filter": "datum.method === 'Extracted'"}],
          "mark": {"type": "circle", "size": 235, "stroke": "black", "strokeWidth": 3, "opacity": 1},
          "encoding": {
            "xOffset": {"field": "slot", "type": "quantitative", "scale": {"domain": [-3.48, 11.73]}},
            "fill": {"field": "method", "type": "nominal", "scale": {"domain": ["Extracted", "Direct"], "range": ["black", "white"]}, "legend": {"title": null, "orient": "none", "legendX": 1137, "legendY": 2364, "direction": "horizontal", "labelFontSize": 62, "labelLimit": 1000, "labelColor": "black", "symbolType": "circle", "symbolSize": 900, "symbolStrokeColor": "black", "symbolStrokeWidth": 5, "symbolOpacity": 1, "labelOffset": 28, "columnPadding": 85}}
          }
        },
        {
          "transform": [{"filter": "datum.method === 'Extracted'"}],
          "mark": {"type": "tick", "orient": "horizontal", "size": 80, "thickness": 4.5, "color": "black", "opacity": 1},
          "encoding": {
            "xOffset": {"datum": 0, "type": "quantitative", "scale": {"domain": [-3.48, 11.73]}},
            "y": {"field": "cq", "aggregate": "median", "type": "quantitative", "title": "Cq"}
          }
        },
        {
          "transform": [{"filter": "datum.method === 'Direct'"}],
          "mark": {"type": "circle", "size": 235, "stroke": "black", "strokeWidth": 3.2, "opacity": 1},
          "encoding": {
            "xOffset": {"field": "slot", "type": "quantitative", "scale": {"domain": [-11.04, 4.17]}},
            "fill": {"field": "method", "type": "nominal", "scale": {"domain": ["Extracted", "Direct"], "range": ["black", "white"]}, "legend": {"title": null, "orient": "none", "legendX": 1137, "legendY": 2364, "direction": "horizontal", "labelFontSize": 62, "labelLimit": 1000, "labelColor": "black", "symbolType": "circle", "symbolSize": 900, "symbolStrokeColor": "black", "symbolStrokeWidth": 5, "symbolOpacity": 1, "labelOffset": 28, "columnPadding": 85}}
          }
        },
        {
          "transform": [{"filter": "datum.method === 'Direct'"}],
          "mark": {"type": "tick", "orient": "horizontal", "size": 80, "thickness": 4.5, "color": "black", "opacity": 1},
          "encoding": {
            "xOffset": {"datum": 0, "type": "quantitative", "scale": {"domain": [-11.04, 4.17]}},
            "y": {"field": "cq", "aggregate": "median", "type": "quantitative", "title": "Cq"}
          }
        }
      ],
      "resolve": {"scale": {"xOffset": "independent"}}
    },
    {
      "title": {"text": "688 bp", "offset": 40},
      "width": 1217,
      "height": 816,
      "transform": [{"filter": "datum.bp === '688 bp'"}],
      "encoding": {
        "x": {"field": "day", "type": "nominal", "scale": {"type": "band", "domain": ["0", "1", "2", "4", "7"], "paddingInner": 0, "paddingOuter": 0}, "axis": {"title": "Days at room temperature"}},
        "y": {"field": "cq", "type": "quantitative", "scale": {"domain": [20, 45], "nice": false, "zero": false}, "axis": {"title": "Cq", "values": [20, 25, 30, 35, 40, 45]}}
      },
      "layer": [
        {
          "transform": [{"filter": "datum.method === 'Extracted'"}],
          "mark": {"type": "circle", "size": 235, "stroke": "black", "strokeWidth": 3, "opacity": 1},
          "encoding": {
            "xOffset": {"field": "slot", "type": "quantitative", "scale": {"domain": [-3.48, 11.73]}},
            "fill": {"field": "method", "type": "nominal", "scale": {"domain": ["Extracted", "Direct"], "range": ["black", "white"]}, "legend": {"title": null, "orient": "none", "legendX": 1137, "legendY": 2364, "direction": "horizontal", "labelFontSize": 62, "labelLimit": 1000, "labelColor": "black", "symbolType": "circle", "symbolSize": 900, "symbolStrokeColor": "black", "symbolStrokeWidth": 5, "symbolOpacity": 1, "labelOffset": 28, "columnPadding": 85}}
          }
        },
        {
          "transform": [{"filter": "datum.method === 'Extracted'"}],
          "mark": {"type": "tick", "orient": "horizontal", "size": 80, "thickness": 4.5, "color": "black", "opacity": 1},
          "encoding": {
            "xOffset": {"datum": 0, "type": "quantitative", "scale": {"domain": [-3.48, 11.73]}},
            "y": {"field": "cq", "aggregate": "median", "type": "quantitative", "title": "Cq"}
          }
        }
      ],
      "resolve": {"scale": {"xOffset": "independent"}}
    }
  ],
  "config": {
    "font": "Liberation Sans",
    "view": {"stroke": null},
    "axis": {"grid": false, "domainColor": "black", "domainWidth": 4.5, "tickColor": "black", "tickWidth": 4.5, "labelColor": "black", "titleColor": "black", "titleFontWeight": "normal", "titleFontSize": 49},
    "axisX": {"ticks": false, "tickSize": 0, "labelFontSize": 43, "labelAngle": 0, "labelPadding": 18, "titlePadding": 40},
    "axisY": {"tickSize": 11, "labelFontSize": 46, "labelPadding": 8, "titlePadding": 37},
    "title": {"fontSize": 58, "fontWeight": "normal", "color": "black"}
  }
}
